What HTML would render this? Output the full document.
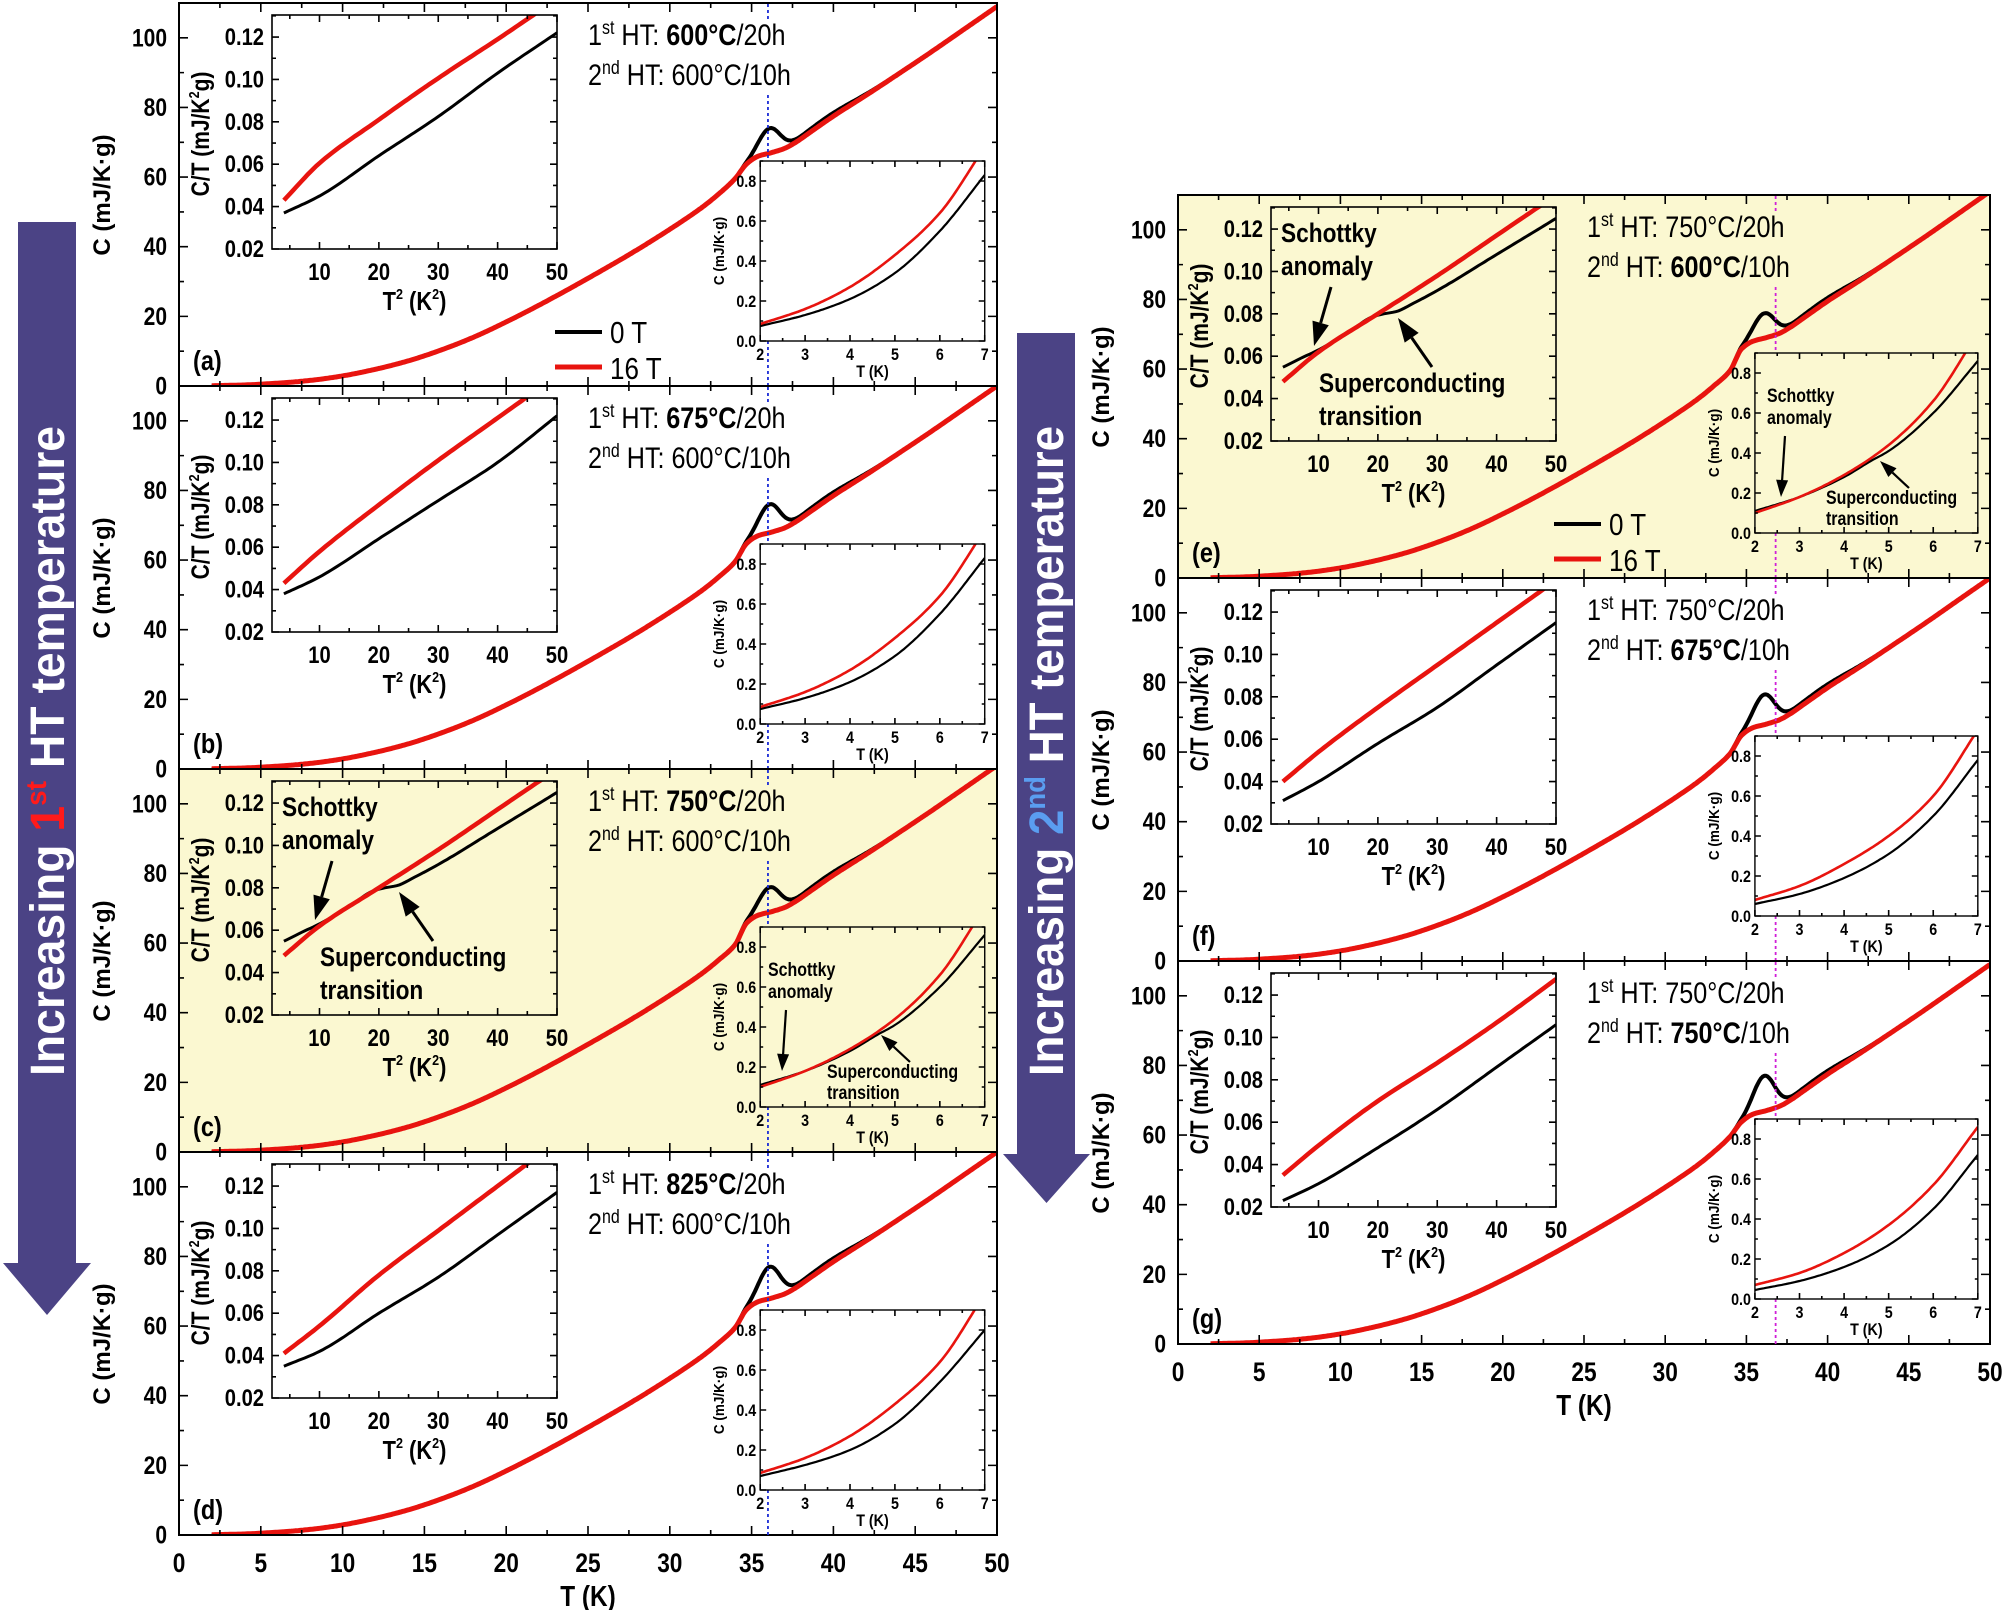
<!DOCTYPE html>
<html><head><meta charset="utf-8">
<style>
html,body{margin:0;padding:0;background:#fff;}
svg{display:block;}
text{font-family:"Liberation Sans Narrow","Liberation Sans",sans-serif;}
</style></head>
<body>
<svg id="s" xmlns="http://www.w3.org/2000/svg" width="2007" height="1610" viewBox="0 0 2007 1610"></svg>
<script>
const SX=0.84;
function cr(pts,x){ // monotone cubic (Fritsch-Carlson)
  let n=pts.length;
  if(x<=pts[0][0])return pts[0][1];
  if(x>=pts[n-1][0]){let a=pts[n-2],b=pts[n-1];return b[1]+(x-b[0])*(b[1]-a[1])/(b[0]-a[0]);}
  let d=[],m=[];
  for(let i=0;i<n-1;i++)d.push((pts[i+1][1]-pts[i][1])/(pts[i+1][0]-pts[i][0]));
  m[0]=d[0];m[n-1]=d[n-2];
  for(let i=1;i<n-1;i++){if(d[i-1]*d[i]<=0)m[i]=0;else{let h0=pts[i][0]-pts[i-1][0],h1=pts[i+1][0]-pts[i][0];let w1=2*h1+h0,w2=h1+2*h0;m[i]=(w1+w2)/(w1/d[i-1]+w2/d[i]);}}
  let i=0;while(pts[i+1][0]<x)i++;
  let h=pts[i+1][0]-pts[i][0],t=(x-pts[i][0])/h,t2=t*t,t3=t2*t;
  return (2*t3-3*t2+1)*pts[i][1]+(t3-2*t2+t)*h*m[i]+(-2*t3+3*t2)*pts[i+1][1]+(t3-t2)*h*m[i+1];
}
function path(f,x0,x1,step,sx,sy){let d='';let N=Math.round((x1-x0)/step);for(let k=0;k<=N;k++){let x=x0+k*step;d+=(d?'L':'M')+sx(x).toFixed(1)+','+sy(f(x)).toFixed(1);}return d;}
let clipId=0;
const L={X0:179,W:818,H:383},R={X0:1178,W:812,H:383};
const panels=[
 {s:L,top:3,lab:'(a)',l1:['1','st',' HT: ','600°C','/20h'],l2:['2','nd',' HT: ','','600°C/10h'],p:67,pk:74,leg:1,
  i1b:[[4,.037],[10,.045],[20,.064],[30,.0825],[40,.103],[50,.122]],i1r:[[4,.043],[10,.0605],[20,.081],[30,.1006],[40,.119],[50,.138]],
  i2b:[[2,.075],[3,.13],[4,.21],[5,.34],[6,.55],[7,.83]],i2r:[[2,.085],[3,.16],[4,.27],[5,.43],[6,.64],[7,.97]]},
 {s:L,top:386,lab:'(b)',l1:['1','st',' HT: ','675°C','/20h'],l2:['2','nd',' HT: ','','600°C/10h'],p:68,pk:76,
  i1b:[[4,.038],[10,.046],[20,.064],[30,.082],[40,.100],[50,.122]],i1r:[[4,.043],[10,.058],[20,.080],[30,.101],[40,.121],[50,.141]],
  i2b:[[2,.075],[3,.13],[4,.21],[5,.34],[6,.55],[7,.83]],i2r:[[2,.085],[3,.16],[4,.27],[5,.43],[6,.64],[7,.97]]},
 {s:L,top:769,lab:'(c)',l1:['1','st',' HT: ','750°C','/20h'],l2:['2','nd',' HT: ','','600°C/10h'],p:69,pk:76,y:1,ann:1,
  i1b:[[4,.0548],[7,.059],[10,.063],[15,.071],[19,.0785],[21,.080],[23,.081],[26,.085],[30,.091],[40,.108],[50,.125]],i1r:[[4,.048],[10,.062],[20,.080],[30,.098],[40,.117],[50,.136]],
  i2b:[[2,.11],[3,.18],[4,.28],[4.6,.36],[5,.41],[6,.60],[7,.86]],i2r:[[2,.10],[3,.18],[4,.29],[5,.44],[6,.66],[7,1.0]]},
 {s:L,top:1152,lab:'(d)',l1:['1','st',' HT: ','825°C','/20h'],l2:['2','nd',' HT: ','','600°C/10h'],p:68,pk:77,xl:1,
  i1b:[[4,.035],[10,.042],[20,.060],[30,.077],[40,.097],[50,.117]],i1r:[[4,.041],[10,.054],[20,.078],[30,.099],[40,.120],[50,.141]],
  i2b:[[2,.07],[3,.125],[4,.20],[5,.33],[6,.54],[7,.80]],i2r:[[2,.085],[3,.16],[4,.27],[5,.43],[6,.64],[7,.98]]},
 {s:R,top:195,lab:'(e)',l1:['1','st',' HT: ','','750°C/20h'],l2:['2','nd',' HT: ','600°C','/10h'],p:69,pk:76,y:1,ann:1,leg:1,
  i1b:[[4,.0548],[7,.059],[10,.063],[15,.071],[19,.0785],[21,.080],[23,.081],[26,.085],[30,.091],[40,.108],[50,.125]],i1r:[[4,.048],[10,.062],[20,.080],[30,.098],[40,.117],[50,.136]],
  i2b:[[2,.11],[3,.18],[4,.28],[4.6,.36],[5,.41],[6,.60],[7,.86]],i2r:[[2,.10],[3,.18],[4,.29],[5,.44],[6,.66],[7,1.0]]},
 {s:R,top:578,lab:'(f)',l1:['1','st',' HT: ','','750°C/20h'],l2:['2','nd',' HT: ','675°C','/10h'],p:68,pk:76.5,
  i1b:[[4,.031],[10,.040],[20,.058],[30,.075],[40,.095],[50,.115]],i1r:[[4,.040],[10,.054],[20,.075],[30,.095],[40,.115],[50,.135]],
  i2b:[[2,.06],[3,.11],[4,.19],[5,.31],[6,.50],[7,.78]],i2r:[[2,.08],[3,.15],[4,.26],[5,.40],[6,.60],[7,.93]]},
 {s:R,top:961,lab:'(g)',l1:['1','st',' HT: ','','750°C/20h'],l2:['2','nd',' HT: ','750°C','/10h'],p:67,pk:77,xl:1,
  i1b:[[4,.023],[10,.031],[20,.048],[30,.066],[40,.086],[50,.106]],i1r:[[4,.035],[10,.049],[20,.070],[30,.088],[40,.107],[50,.1275]],
  i2b:[[2,.045],[3,.09],[4,.16],[5,.27],[6,.45],[7,.72]],i2r:[[2,.07],[3,.13],[4,.23],[5,.37],[6,.57],[7,.86]]},
];
let out='';
function T(x,y,str,o){o=o||{};
  const tr=`translate(${x} ${y})`+(o.rot?` rotate(${o.rot})`:'')+` scale(${o.sx||SX} 1)`;
  return `<text x="0" y="${o.dy||0}" font-size="${o.fs||20}" font-weight="${o.fw||'bold'}" text-anchor="${o.a||'start'}" fill="${o.c||'#000'}" transform="${tr}">${str}</text>`;}
function ticks(x0,x1,y0,y1,xs,ys,xr,yr,maj,min){
  let s='';
  for(let v=xr[0];v<=xr[1]+1e-9;v+=xr[2]){let M=Math.abs(v/xr[3]-Math.round(v/xr[3]))<1e-6;let l=M?maj:min;let x=xs(v);
    if(x<x0-0.5||x>x1+0.5)continue;
    s+=`M${x},${y1}v${-l}M${x},${y0}v${l}`;}
  for(let v=yr[0];v<=yr[1]+1e-9;v+=yr[2]){let M=Math.abs(v/yr[3]-Math.round(v/yr[3]))<1e-6;let l=M?maj:min;let y=ys(v);
    if(y<y0-0.5||y>y1+0.5)continue;
    s+=`M${x0},${y}h${l}M${x1},${y}h${-l}`;}
  return `<path d="${s}" stroke="#000" stroke-width="1.6" fill="none"/>`;
}
function arrow(x1,y1,x2,y2,hl,hw,sw){
  let dx=x2-x1,dy=y2-y1,len=Math.hypot(dx,dy),ux=dx/len,uy=dy/len;
  let bx=x2-ux*hl,by=y2-uy*hl;
  return `<line x1="${x1}" y1="${y1}" x2="${bx}" y2="${by}" stroke="#000" stroke-width="${sw}"/><polygon points="${x2},${y2} ${bx-uy*hw/2},${by+ux*hw/2} ${bx+uy*hw/2},${by-ux*hw/2}" fill="#000"/>`;
}
for(const pn of panels){
  const {X0,W,H}=pn.s, Y0=pn.top, X1=X0+W, Y1=Y0+H;
  const xs=t=>X0+t/50*W, ys=c=>Y1-c/110*H;
  if(pn.y) out+=`<rect x="${X0}" y="${Y0}" width="${W}" height="${H}" fill="#fbf8d1"/>`;
  const p=pn.p,A=pn.pk-p;
  const red=[[2,0.08],[4,0.3],[6,0.8],[8,1.6],[10,2.9],[12,4.8],[14,7.2],[16,10.3],[18,14],[20,18.4],[22,23.2],[24,28.3],[26,33.6],[28,39.1],[30,45],[31,48.1],[32,51.4],[33,55.2],[34,59.6],[34.7,p-3.2],[35.4,p-1],[36.2,p],[37,p+1.2],[37.7,p+3],[38.5,p+5.6],[40,p+10.5],[42,p+16.5],[44,p+22.7],[46,p+29],[48,p+35.5],[50,p+42]];
  const fr=t=>cr(red,t);
  const fb=t=>fr(t)+A*Math.exp(-Math.pow((t-36.1)/0.9,2))+1.0*Math.exp(-Math.pow((t-39.5)/2.5,2));
  clipId++;
  out+=`<clipPath id="c${clipId}"><rect x="${X0}" y="${Y0}" width="${W}" height="${H}"/></clipPath>`;
  out+=`<g clip-path="url(#c${clipId})"><path d="${path(fb,2,50,0.1,xs,ys)}" stroke="#000" stroke-width="4" fill="none" stroke-linejoin="round"/><path d="${path(fr,2,50,0.1,xs,ys)}" stroke="#e8140f" stroke-width="5" fill="none" stroke-linejoin="round"/></g>`;
  out+=ticks(X0,X1,Y0,Y1,xs,ys,[0,50,2.5,5],[0,110,10,20],9,5);
  out+=`<rect x="${X0}" y="${Y0}" width="${W}" height="${H}" fill="none" stroke="#000" stroke-width="2"/>`;
  for(let v=0;v<=100;v+=20) out+=T(X0-12,ys(v)+8.5,v,{fs:25,a:'end'});
  out+=T(X0-69,Y0+192,'C (mJ/K·g)',{fs:24,a:'middle',rot:-90,sx:1});
  if(pn.xl){for(let v=0;v<=50;v+=5) out+=T(xs(v),Y1+37,v,{fs:27,a:'middle'});
    out+=T(X0+W/2,Y1+71,'T (K)',{fs:29,a:'middle'});}
  out+=T(X0+14,Y0+367,pn.lab,{fs:28});
  const vx=pn.s===L?xs(36):xs(36.8), vc=pn.s===L?'#1a2bd6':'#d020d8';
  out+=`<path d="M${vx},${Y0+1}V${Y0+18}M${vx},${Y0+92}V${Y1}" stroke="${vc}" stroke-width="1.8" stroke-dasharray="3,3"/>`;
  const tx=X0+409;
  function ln(l,y){return `<text x="0" y="0" font-size="30" fill="#000" transform="translate(${tx} ${y}) scale(${SX} 1)">${l[0]}<tspan font-size="19" dy="-11">${l[1]}</tspan><tspan dy="11">${l[2]}</tspan><tspan font-weight="bold">${l[3]}</tspan>${l[4]}</text>`;}
  out+=ln(pn.l1,Y0+42)+ln(pn.l2,Y0+82);
  if(pn.leg){
    out+=`<line x1="${X0+376}" y1="${Y0+329}" x2="${X0+423}" y2="${Y0+329}" stroke="#000" stroke-width="4"/>`;
    out+=`<line x1="${X0+376}" y1="${Y0+364}" x2="${X0+423}" y2="${Y0+364}" stroke="#e8140f" stroke-width="5"/>`;
    out+=T(X0+431,Y0+340,'0 T',{fs:31,fw:'normal'})+T(X0+431,Y0+376,'16 T',{fs:31,fw:'normal'});
  }
  {const a=X0+93,b=X0+378,c=Y0+12,d=Y0+246;
   const ixs=v=>a+(v-2)/48*(b-a), iys=v=>d-(v-0.02)/0.1104*(d-c);
   clipId++;
   out+=`<clipPath id="c${clipId}"><rect x="${a}" y="${c}" width="${b-a}" height="${d-c}"/></clipPath>`;
   const lin=pts=>t=>cr(pts,t);
   out+=`<g clip-path="url(#c${clipId})"><path d="${path(lin(pn.i1b),4,50,0.5,ixs,iys)}" stroke="#000" stroke-width="3" fill="none"/><path d="${path(lin(pn.i1r),4,50,0.5,ixs,iys)}" stroke="#e8140f" stroke-width="4.5" fill="none"/></g>`;
   out+=ticks(a,b,c,d,ixs,iys,[5,50,5,10],[0.02,0.13,0.01,0.02],7,4);
   out+=`<rect x="${a}" y="${c}" width="${b-a}" height="${d-c}" fill="none" stroke="#000" stroke-width="1.6"/>`;
   for(let v=0.02;v<=0.1201;v+=0.02) out+=T(a-8,iys(v)+8,v.toFixed(2),{fs:24,a:'end'});
   for(let v=10;v<=50;v+=10) out+=T(ixs(v),d+31,v,{fs:24,a:'middle'});
   out+=`<text x="0" y="0" font-size="26" font-weight="bold" text-anchor="middle" transform="translate(${(a+b)/2} ${d+61}) scale(${SX} 1)">T<tspan font-size="15" dy="-11">2</tspan><tspan dy="11"> (K</tspan><tspan font-size="15" dy="-11">2</tspan><tspan dy="11">)</tspan></text>`;
   const yx=a-71,yy=(c+d)/2+2;
   out+=`<text x="0" y="8" font-size="25" font-weight="bold" text-anchor="middle" transform="translate(${yx} ${yy}) rotate(-90) scale(${SX} 1)">C/T (mJ/K<tspan font-size="15" dy="-10">2</tspan><tspan dy="10">g)</tspan></text>`;
   if(pn.ann){
     out+=T(X0+103,Y0+47,'Schottky',{fs:27})+T(X0+103,Y0+80,'anomaly',{fs:27});
     out+=arrow(X0+153,Y0+92,X0+136,Y0+151,24,17,3);
     out+=T(X0+141,Y0+197,'Superconducting',{fs:27})+T(X0+141,Y0+230,'transition',{fs:27});
     out+=arrow(X0+254,Y0+172,X0+220,Y0+123,24,17,3);
   }
  }
  {const a=X0+W*0.7105,b=X0+W*0.985,c=Y0+158,d=Y0+338;
   const ixs=v=>a+(v-2)/5*(b-a), iys=v=>d-v/0.9*(d-c);
   clipId++;
   out+=`<rect x="${a}" y="${c}" width="${b-a}" height="${d-c}" fill="${pn.y?'#fbf8d1':'#fff'}"/>`;
   out+=`<clipPath id="c${clipId}"><rect x="${a}" y="${c}" width="${b-a}" height="${d-c}"/></clipPath>`;
   out+=`<g clip-path="url(#c${clipId})"><path d="${path(t=>cr(pn.i2b,t),2,7,0.05,ixs,iys)}" stroke="#000" stroke-width="2.2" fill="none"/><path d="${path(t=>cr(pn.i2r,t),2,7,0.05,ixs,iys)}" stroke="#e8140f" stroke-width="2.6" fill="none"/></g>`;
   out+=ticks(a,b,c,d,ixs,iys,[2,7,0.5,1],[0,0.9,0.1,0.2],6,3);
   out+=`<rect x="${a}" y="${c}" width="${b-a}" height="${d-c}" fill="none" stroke="#000" stroke-width="1.4"/>`;
   for(let v=0;v<=0.81;v+=0.2) out+=T(a-4,iys(v)+6,v.toFixed(1),{fs:17,a:'end'});
   for(let v=2;v<=7;v++) out+=T(ixs(v),d+19,v,{fs:17,a:'middle'});
   out+=T((a+b)/2,d+36,'T (K)',{fs:17,a:'middle'});
   const yx=a-36,yy=(c+d)/2;
   out+=T(yx,yy,'C (mJ/K·g)',{fs:15,a:'middle',rot:-90,sx:0.9});
   if(pn.ann){
     out+=T(X0+589,Y0+207,'Schottky',{fs:19})+T(X0+589,Y0+229,'anomaly',{fs:19});
     out+=arrow(X0+607,Y0+241,X0+603,Y0+302,17,12,2.2);
     out+=T(X0+648,Y0+309,'Superconducting',{fs:19})+T(X0+648,Y0+330,'transition',{fs:19});
     out+=arrow(X0+731,Y0+293,X0+702,Y0+266,17,12,2.2);
   }
  }
}
function bigArrow(x0,x1,hx0,hx1,yt,yb,tip,col,sup,cx){
  let mid=(hx0+hx1)/2;
  let s=`<polygon points="${x0},${yt} ${x1},${yt} ${x1},${yb} ${hx1},${yb} ${mid},${tip} ${hx0},${yb} ${x0},${yb}" fill="#4b4385"/>`;
  const cy=751;
  s+=`<text x="${cx}" y="${cy}" font-size="48" font-weight="bold" fill="#fff" text-anchor="middle" textLength="650" lengthAdjust="spacingAndGlyphs" transform="rotate(-90 ${cx} ${cy})">Increasing <tspan fill="${col}">${sup[0]}<tspan font-size="29" dy="-18">${sup[1]}</tspan></tspan><tspan dy="18"> HT temperature</tspan></text>`;
  return s;
}
out+=bigArrow(18,76,3,91,222,1263,1315,'#ff1a1a',['1','st'],64);
out+=bigArrow(1017,1075,1003,1090,333,1154,1203,'#5a9df0',['2','nd'],1063);
document.getElementById('s').innerHTML=out;
</script>
</body></html>
